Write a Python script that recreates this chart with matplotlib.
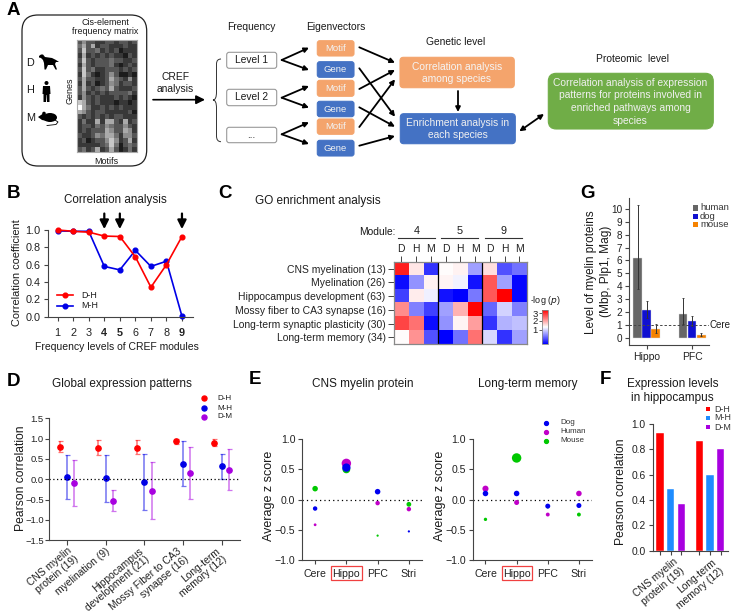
import numpy as np
import matplotlib
matplotlib.use('Agg')
import matplotlib.pyplot as plt
from matplotlib.colors import LinearSegmentedColormap, TwoSlopeNorm
from matplotlib.patches import FancyBboxPatch, Polygon, Circle, Ellipse, Rectangle
from matplotlib.path import Path
from matplotlib.patches import PathPatch
from matplotlib.transforms import ScaledTranslation

plt.rcParams['font.family'] = ['Liberation Sans', 'DejaVu Sans']
plt.rcParams['axes.edgecolor'] = '#444444'
plt.rcParams['xtick.color'] = '#444444'
plt.rcParams['ytick.color'] = '#444444'
plt.rcParams['xtick.labelcolor'] = '#222222'
plt.rcParams['ytick.labelcolor'] = '#222222'

W, H = 740, 611

# panel A matrix, grey levels read by eye (0 dark, 9 light)
matrix_rows = [
    '3533223323323', '4636233222322', '3733423231222', '2623232322132',
    '3732333433223', '2632333421232', '3734223332323', '2742123531121',
    '3633223643252', '2623123542332', '3632343632223', '3523232333342',
    '2532322232321', '7632322212212', '9642232323222', '6532332222231',
    '3232323233222', '2422626632623', '2332435433532', '2323336533652',
    '3223546642553', '2312335752362', '2222234741343', '3423623631242',
]

# panel B
levels = [1, 2, 3, 4, 5, 6, 7, 8, 9]
corr_dh = [1.0, 0.985, 0.975, 0.93, 0.925, 0.69, 0.34, 0.60, 0.925]
corr_mh = [0.99, 0.985, 0.985, 0.58, 0.54, 0.765, 0.58, 0.64, 0.005]
arrow_levels = [4, 5, 9]

# panel C
go_terms = ['CNS myelination (13)', 'Myelination (26)', 'Hippocampus development (63)',
            'Mossy fiber to CA3 synapse (16)', 'Long-term synaptic plasticity (30)',
            'Long-term memory (34)']
go_species = ['D', 'H', 'M'] * 3
go_modules = ['4', '5', '9']
go_values = [
    [3.13, 1.42, 0.24, 1.22, 1.31, 0.75, 1.48, 0.39, 0.54],
    [0.06, 0.69, 1.31, 1.29, 1.14, 0.09, 2.63, 0.75, 0.03],
    [0.30, 1.37, 1.13, 0.09, 0.00, 0.57, 2.63, 3.40, 0.03],
    [2.19, 0.60, 0.30, 0.75, 1.86, 3.35, 0.48, 0.99, 0.60],
    [2.80, 2.41, 0.06, 0.69, 1.29, 2.03, 0.24, 0.84, 0.90],
    [1.23, 2.14, 0.39, 0.00, 0.54, 2.41, 1.02, 0.24, 0.75],
]

# panel D
d_labels = ['CNS myelin\nprotein (19)', 'myelination (9)', 'Hippocampus\ndevelopment (21)',
            'Mossy Fiber to CA3\nsynapse (16)', 'Long-term\nmemory (12)']
d_pairs = ['D-H', 'M-H', 'D-M']
d_mean_dh = [0.80, 0.77, 0.78, 0.93, 0.90]
d_low_dh = [0.66, 0.59, 0.61, 0.87, 0.81]
d_high_dh = [0.93, 0.97, 0.96, 0.98, 0.98]
d_mean_mh = [0.05, 0.02, -0.06, 0.38, 0.32]
d_low_mh = [-0.49, -0.55, -0.76, -0.17, 0.01]
d_high_mh = [0.60, 0.59, 0.63, 0.93, 0.63]
d_mean_dm = [-0.10, -0.54, -0.28, 0.15, 0.23]
d_low_dm = [-0.66, -0.78, -0.98, -0.49, -0.27]
d_high_dm = [0.47, -0.27, 0.42, 0.79, 0.74]

# panel E, marker sizes are the dot diameters in the picture
regions = ['Cere', 'Hippo', 'PFC', 'Stri']
e1_mouse = [0.18, 0.50, -0.60, -0.08]
e1_human = [-0.42, 0.60, -0.06, -0.16]
e1_dog = [-0.15, 0.53, 0.13, -0.53]
e1_mouse_d = [5, 7, 2, 4.3]
e1_human_d = [2.5, 8.5, 4, 4]
e1_dog_d = [4, 7.5, 5, 2]
e2_mouse = [-0.33, 0.69, -0.13, -0.25]
e2_human = [0.18, -0.05, -0.25, 0.10]
e2_dog = [0.10, 0.10, -0.11, -0.10]
e2_mouse_d = [3, 8.5, 2, 3.5]
e2_human_d = [5.5, 4.5, 3.5, 5]
e2_dog_d = [5, 5, 4.5, 4.5]

# panel F
f_labels = ['CNS myelin\nprotein (19)', 'Long-term\nmemory (12)']
f_dh = [0.93, 0.865]
f_mh = [0.49, 0.595]
f_dm = [0.37, 0.805]

# panel G
g_labels = ['Hippo', 'PFC']
g_species = ['human', 'dog', 'mouse']
g_human = [6.2, 1.9]
g_human_low = [3.8, 1.1]
g_human_high = [10.3, 3.1]
g_dog = [2.2, 1.3]
g_dog_low = [1.6, 0.95]
g_dog_high = [2.85, 1.7]
g_mouse = [0.7, 0.25]
g_mouse_low = [0.4, 0.15]
g_mouse_high = [1.1, 0.4]

RED = '#FF0000'
BLUE = '#0000E6'
PURPLE = '#A800E0'
ORANGE_BOX = '#F4A46C'
BLUE_BOX = '#4472C4'
GREEN_BOX = '#70AD47'


def add_ax(left, top, right, bottom):
    ax = fig.add_axes([left / W, 1 - bottom / H, (right - left) / W, (bottom - top) / H])
    ax.patch.set_alpha(0)
    ax.spines['top'].set_visible(False)
    ax.spines['right'].set_visible(False)
    return ax


def ms(d):
    # pixel diameter to scatter size
    return (d * 0.8) ** 2


fig = plt.figure(figsize=(W / 100, H / 100), dpi=100)

# overlay in pixel coordinates for the schematic and the loose text
ov = fig.add_axes([0, 0, 1, 1], zorder=5)
ov.set_xlim(0, W)
ov.set_ylim(H, 0)
ov.axis('off')
ov.patch.set_alpha(0)


def label(x, y, s, size=7.4, color='#1a1a1a', **kw):
    kw.setdefault('ha', 'center')
    kw.setdefault('va', 'center')
    ov.text(x, y, s, fontsize=size, color=color, **kw)


def rbox(x0, y0, x1, y1, face, edge=None, rad=3, lw=0.8):
    ov.add_patch(FancyBboxPatch((x0 + rad, y0 + rad), x1 - x0 - 2 * rad, y1 - y0 - 2 * rad,
                                boxstyle=f'round,pad={rad},rounding_size={rad}',
                                fc=face, ec=edge if edge else face, lw=lw))


def arrow(x0, y0, x1, y1, style='-|>', scale=7, lw=1.3):
    ov.annotate('', xy=(x1, y1), xytext=(x0, y0),
                arrowprops=dict(arrowstyle=style, color='black', lw=lw, mutation_scale=scale,
                                shrinkA=0, shrinkB=0))


# panel letters
for letter, x, y in [('A', 7, 10.5), ('B', 7, 193), ('C', 218, 193), ('G', 580, 193),
                     ('D', 7, 382), ('E', 249, 380), ('F', 600, 380)]:
    label(x, y, letter, size=13.5, color='black', fontweight='bold', ha='left')

# A: left box
rbox(22, 15, 146.7, 166, 'white', edge='#222222', rad=16, lw=0.9)
label(105, 22.7, 'Cis-element', size=6.4)
label(105, 31.7, 'frequency matrix', size=6.4)
label(106.7, 161, 'Motifs', size=6.5)
label(69.7, 91, 'Genes', size=6.5, rotation=90)
label(30, 63, 'D', size=7.8)
label(30, 90, 'H', size=7.8)
label(31, 118, 'M', size=7.8)
grey = np.array([[int(c) for c in row] for row in matrix_rows], dtype=float)
ax_m = fig.add_axes([77.3 / W, 1 - 152 / H, 59.4 / W, 112 / H], zorder=6)
ax_m.imshow(grey, cmap='gray', vmin=0, vmax=9, aspect='auto', interpolation='nearest')
ax_m.set_xticks([])
ax_m.set_yticks([])
for s in ax_m.spines.values():
    s.set_color('#aaaaaa')
    s.set_linewidth(0.8)

# animal silhouettes
ov.add_patch(Polygon([(39, 56), (41, 54.5), (43, 54.5), (45, 57), (52, 58), (56, 60), (59, 62),
                      (56, 62), (55, 64), (57, 69.5), (55.5, 69.5), (53, 65), (48, 65),
                      (46, 69.5), (44.5, 69.5), (44, 63), (43, 60), (41, 58), (39, 57.5)],
                     closed=True, fc='black', ec='none'))
ov.add_patch(Circle((46.5, 83), 2, fc='black', ec='none'))
ov.add_patch(Polygon([(43, 86), (50, 86), (50.5, 94), (49.5, 94), (49.5, 102), (47, 102),
                      (46.7, 95), (46.3, 95), (46, 102), (43.5, 102), (43.5, 94), (42.5, 94)],
                     closed=True, fc='black', ec='none'))
ov.add_patch(Ellipse((50, 117.5), 14, 9, fc='black', ec='none'))
ov.add_patch(Polygon([(38, 117), (44, 113), (47, 121), (42, 120)], closed=True, fc='black', ec='none'))
ov.add_patch(Circle((44, 113.5), 1.8, fc='black', ec='none'))
ov.plot([55, 58, 56, 47], [120, 122, 124.5, 125.5], color='black', lw=0.6)

# A: CREF arrow and brace
label(175.7, 76.7, 'CREF')
label(175.7, 89, 'analysis')
arrow(153, 99.7, 205, 99.7, scale=13, lw=1.2)
brace = Path([(221, 59), (216.5, 59), (216.5, 64), (216.5, 92), (216.5, 100), (213, 100),
              (216.5, 100), (216.5, 108), (216.5, 136), (216.5, 141.7), (221, 141.7)],
             [Path.MOVETO, Path.CURVE3, Path.CURVE3, Path.LINETO, Path.CURVE3, Path.CURVE3,
              Path.CURVE3, Path.CURVE3, Path.LINETO, Path.CURVE3, Path.CURVE3])
ov.add_patch(PathPatch(brace, fc='none', ec='#333333', lw=0.7))

# A: levels and eigenvectors
label(251.7, 27.5, 'Frequency')
label(335.7, 27.5, 'Eigenvectors')
for y0, y1, s in [(52.3, 68.3, 'Level 1'), (89.3, 105.7, 'Level 2'), (127.3, 142.7, '...')]:
    rbox(226.7, y0, 276.7, y1, 'white', edge='#999999', rad=2.5)
    label(251.7, (y0 + y1) / 2, s, size=7.4)
for y0, y1, s, c in [(40.7, 56, 'Motif', ORANGE_BOX), (61.7, 77.3, 'Gene', BLUE_BOX),
                     (80.3, 96.3, 'Motif', ORANGE_BOX), (101.3, 116.7, 'Gene', BLUE_BOX),
                     (119, 134.3, 'Motif', ORANGE_BOX), (140.3, 156, 'Gene', BLUE_BOX)]:
    rbox(317.3, y0, 354, y1, c, rad=2.5)
    label(335.6, (y0 + y1) / 2, s, size=6.8, color='#f2f2f2')
for ys, y_up, y_dn in [(60, 47.7, 70), (97.7, 86, 107.7), (134.3, 122.3, 144)]:
    arrow(281.7, ys, 309, y_up)
    arrow(281.7, ys, 309, y_dn)
for y0, y1 in [(47.3, 62.7), (68.3, 116.7), (89, 70), (107.3, 126.7), (127, 79.3), (145.7, 136)]:
    arrow(359.3, y0, 395, y1)

# A: genetic and proteomic levels
label(456, 41.7, 'Genetic level')
label(633, 59, 'Proteomic  level')
rbox(400, 57.3, 514.3, 87.7, ORANGE_BOX, rad=3.5)
label(457, 66.7, 'Correlation analysis', color='#f5f5f5')
label(457, 79, 'among species', color='#f5f5f5')
rbox(400.3, 113.7, 515.3, 143.7, BLUE_BOX, rad=3.5)
label(457.5, 123, 'Enrichment analysis in', color='#f0f0f0')
label(457.5, 135.3, 'each species', color='#f0f0f0')
arrow(458, 91, 458, 112)
rbox(548.3, 73.3, 713.3, 129, GREEN_BOX, rad=8)
for y, s in [(83, 'Correlation analysis of expression'), (95.5, 'patterns for proteins involved in'),
             (108, 'enriched pathways among'), (120.5, 'species')]:
    label(630.5, y, s, color='#f0f0f0')
arrow(519.3, 131.3, 544, 114, style='<|-|>')

# B: correlation lines
ax = add_ax(47.7, 230, 193, 316.7)
ax.plot(levels, corr_mh, color=BLUE, lw=1.2, marker='o', ms=3.4, clip_on=False)
ax.plot(levels, corr_dh, color=RED, lw=1.2, marker='o', ms=3.4, clip_on=False)
ax.set_xlim(0.356, 9.71)
ax.set_ylim(0, 1)
ax.set_xticks(levels)
ax.set_yticks([0, 0.2, 0.4, 0.6, 0.8, 1.0])
ax.tick_params(labelsize=7.8, length=3, width=0.8, pad=2)
ax.tick_params(axis='x', pad=5)
for t, v in zip(ax.get_xticklabels(), levels):
    if v in arrow_levels:
        t.set_fontweight('bold')
for lv in arrow_levels:
    ax.annotate('', xy=(lv, 1.01), xytext=(lv, 1.19), annotation_clip=False,
                arrowprops=dict(arrowstyle='-|>', color='black', lw=1.6, mutation_scale=13,
                                shrinkA=0, shrinkB=0))
label(115.7, 200, 'Correlation analysis', size=8.4)
label(16.7, 273, 'Correlation coefficient', size=7.9, rotation=90)
label(116.7, 346.7, 'Frequency levels of CREF modules', size=7.5)
ov.plot([57, 73], [295, 295], color=RED, lw=1.2)
ov.plot([57, 73], [305.7, 305.7], color=BLUE, lw=1.2)
ov.plot([65], [295], color=RED, marker='o', ms=3.4)
ov.plot([65], [305.7], color=BLUE, marker='o', ms=3.4)
label(81.7, 295, 'D-H', size=6.4, ha='left')
label(81.7, 305.7, 'M-H', size=6.4, ha='left')

# C: heatmap
cmap = LinearSegmentedColormap.from_list('bwr2', ['#0000FF', '#FFFFFF', '#FF0000'])
norm = TwoSlopeNorm(vmin=0, vcenter=1.2, vmax=3.4)
ax = fig.add_axes([394 / W, 1 - 344.3 / H, 132.7 / W, 82.6 / H])
im = ax.imshow(go_values, cmap=cmap, norm=norm, aspect='auto', interpolation='nearest')
ax.set_xticks(range(len(go_species)))
ax.set_xticklabels(go_species)
ax.set_yticks(range(len(go_terms)))
ax.set_yticklabels(go_terms)
ax.xaxis.tick_top()
ax.tick_params(labelsize=7.5, length=4, width=0.7, pad=2)
ax.tick_params(axis='x', pad=1.5)
for s in ax.spines.values():
    s.set_color('#888888')
    s.set_linewidth(0.9)
for x in [2.5, 5.5]:
    ax.axvline(x, color='black', lw=0.9)
label(395, 231.7, 'Module:', size=7.4, ha='right')
for (x0, x1), m in zip([(398.3, 435), (441, 477.7), (485, 521.7)], go_modules):
    ov.plot([x0, x1], [238.3, 238.3], color='#333333', lw=0.8)
    label((x0 + x1) / 2, 230.7, m, size=7.8)
label(255, 200.7, 'GO enrichment analysis', size=8.5, ha='left')
cax = fig.add_axes([541.7 / W, 1 - 344 / H, 6.6 / W, 34 / H])
cb = fig.colorbar(im, cax=cax)
cb.set_ticks([1, 2, 3])
cb.ax.yaxis.set_ticks_position('left')
cb.ax.tick_params(labelsize=6.8, length=2, width=0.6, pad=1)
cb.outline.set_edgecolor('#888888')
cb.outline.set_linewidth(0.6)
label(545, 300.7, '-log ($\\mathit{p}$)', size=6.5)

# D: error bars
ax = add_ax(49.3, 418.3, 240, 540.3)
xd = np.arange(len(d_labels))
for off, mean, low, high, c in [(-0.19, d_mean_dh, d_low_dh, d_high_dh, RED),
                                (0, d_mean_mh, d_low_mh, d_high_mh, BLUE),
                                (0.19, d_mean_dm, d_low_dm, d_high_dm, PURPLE)]:
    mean, low, high = np.array(mean), np.array(low), np.array(high)
    ax.errorbar(xd + off, mean, yerr=[mean - low, high - mean], fmt='none', ecolor=c,
                elinewidth=1.1, capsize=1.8, capthick=0.9, alpha=0.55)
    ax.plot(xd + off, mean, 'o', color=c, ms=3.8)
ax.axhline(0, color='black', lw=0.9, ls=(0, (1, 2)))
ax.set_xlim(-0.458, 4.47)
ax.set_ylim(-1.5, 1.5)
ax.set_yticks([-1.5, -1.0, -0.5, 0.0, 0.5, 1.0, 1.5])
ax.set_xticks(xd)
ax.set_xticklabels(d_labels, rotation=40, ha='right', va='top', rotation_mode='anchor',
                   multialignment='right', linespacing=1.05)
ax.tick_params(axis='y', labelsize=6.8, length=3, width=0.8, pad=1)
ax.tick_params(axis='x', labelsize=7.4, length=3.5, width=0.8, pad=0.5)
# the last three labels sit a little left of their ticks
for t in ax.get_xticklabels()[2:]:
    t.set_transform(t.get_transform() + ScaledTranslation(-6 / 100, 0, fig.dpi_scale_trans))
label(122, 384, 'Global expression patterns', size=8.5)
label(21.5, 478, 'Pearson correlation', size=8.7, rotation=90)
for y, s, c in zip([398, 408, 417], d_pairs, [RED, BLUE, PURPLE]):
    ov.plot([204], [y], 'o', color=c, ms=3.6)
    label(217, y, s, size=5.8, ha='left')

# E: z score dots
for left, right, mouse, human, dog, md, hd, dd in [
        (302.3, 422.3, e1_mouse, e1_human, e1_dog, e1_mouse_d, e1_human_d, e1_dog_d),
        (472.7, 592.3, e2_mouse, e2_human, e2_dog, e2_mouse_d, e2_human_d, e2_dog_d)]:
    ax = add_ax(left, 439.3, right, 559.7)
    xr = np.arange(len(regions))
    ax.axhline(0, color='black', lw=0.9, ls=(0, (1, 2.5)))
    ax.scatter(xr, mouse, s=[ms(d) for d in md], color='#00C800', lw=0, zorder=3)
    ax.scatter(xr, human, s=[ms(d) for d in hd], color='#C000C8', lw=0, zorder=4)
    ax.scatter(xr, dog, s=[ms(d) for d in dd], color='#0000F0', lw=0, zorder=5)
    ax.set_xlim(-0.41, 3.43)
    ax.set_ylim(-1, 1)
    ax.set_yticks([-1.0, -0.5, 0.0, 0.5, 1.0])
    ax.set_xticks(xr)
    ax.set_xticklabels(regions)
    ax.tick_params(labelsize=7.6, length=3, width=0.8, pad=2)
    ax.tick_params(axis='x', pad=3.5)
    ov.add_patch(Rectangle((left + 29, 566), 30.4, 14, fc='none', ec='#F04040', lw=0.9))
    label(left - 33, 496, 'Average z score', size=9, rotation=90)
label(363, 384, 'CNS myelin protein', size=8.5)
label(527.7, 384, 'Long-term memory', size=8.5)
for y, s, c in zip([422.7, 431.7, 441], ['Dog', 'Human', 'Mouse'], ['#0000F0', '#C000C8', '#00C800']):
    ov.plot([546], [y], 'o', color=c, ms=2.8)
    label(560, y, s, size=5.8, ha='left', color='#333333')

# F: bars
ax = add_ax(652.7, 424, 728.3, 550.7)
xf = np.arange(len(f_labels)) * 3.68
for off, vals, c in [(-1, f_dh, '#FF0000'), (0, f_mh, '#1E8CFF'), (1, f_dm, '#A800E0')]:
    ax.bar(xf + off, vals, width=0.69, color=c, edgecolor='white', lw=0.3)
ax.set_xlim(-1.687, 5.4)
ax.set_ylim(0, 1)
ax.set_yticks([0, 0.2, 0.4, 0.6, 0.8, 1.0])
ax.set_xticks(np.concatenate([xf - 1, xf, xf + 1]))
ax.set_xticklabels([])
ax.tick_params(labelsize=7.4, length=3, width=0.8, pad=2)
for x, s in zip(xf, f_labels):
    ax.annotate(s, xy=(x, 0), xytext=(1.5, -4.5), xycoords=('data', 'axes fraction'),
                textcoords='offset points', rotation=40, ha='right', va='top',
                rotation_mode='anchor', multialignment='right', fontsize=7.4, linespacing=1.15,
                color='#222222')
label(672.3, 384, 'Expression levels', size=8.5)
label(672.3, 398, 'in hippocampus', size=8.5)
label(621, 491.7, 'Pearson correlation', size=8.8, rotation=90)
for y, s, c in zip([409, 418, 427], d_pairs, ['#FF0000', '#1E8CFF', '#A800E0']):
    ov.add_patch(Rectangle((705.5, y - 2.2), 4.4, 4.4, fc=c, ec='none'))
    label(714, y, s, size=6.4, ha='left', color='#333333')

# G: bars with error bars
ax = add_ax(629.3, 198, 709, 345)
xg = np.arange(len(g_labels))
step = 9.1 / 45.6
for off, mean, low, high, c in [(-step, g_human, g_human_low, g_human_high, '#666666'),
                                (0, g_dog, g_dog_low, g_dog_high, '#1010D0'),
                                (step, g_mouse, g_mouse_low, g_mouse_high, '#F58200')]:
    mean, low, high = np.array(mean), np.array(low), np.array(high)
    ax.bar(xg + off, mean, width=step * 0.95, color=c, edgecolor='#dddddd', lw=0.3)
    ax.errorbar(xg + off, mean, yerr=[mean - low, high - mean], fmt='none', ecolor='#333333',
                elinewidth=0.7, capsize=1, capthick=0.6)
ax.axhline(1, color='#444444', lw=0.7, ls=(0, (2.5, 2)))
ax.set_xlim(-0.38, 1.37)
ax.set_ylim(-0.52, 10.82)
ax.set_yticks(range(0, 11))
ax.set_xticks(xg)
ax.set_xticklabels(g_labels)
ax.tick_params(labelsize=7.2, length=3, width=0.8, pad=2)
ax.tick_params(axis='x', labelsize=7.5, pad=2)
label(710, 325, 'Cere', size=7, ha='left')
label(590.7, 271.7, 'Level of myelin proteins', size=8.5, rotation=90)
label(606, 271.7, '(Mbp, Plp1, Mag)', size=8.6, rotation=90)
for y, s, c in zip([208, 216.3, 224.7], g_species, ['#666666', '#1010D0', '#F58200']):
    ov.add_patch(Rectangle((693, y - 2.7), 5.4, 5.4, fc=c, ec='none'))
    label(700, y, s, size=6.8, ha='left', color='#333333')

plt.savefig('out.png', dpi=100)
